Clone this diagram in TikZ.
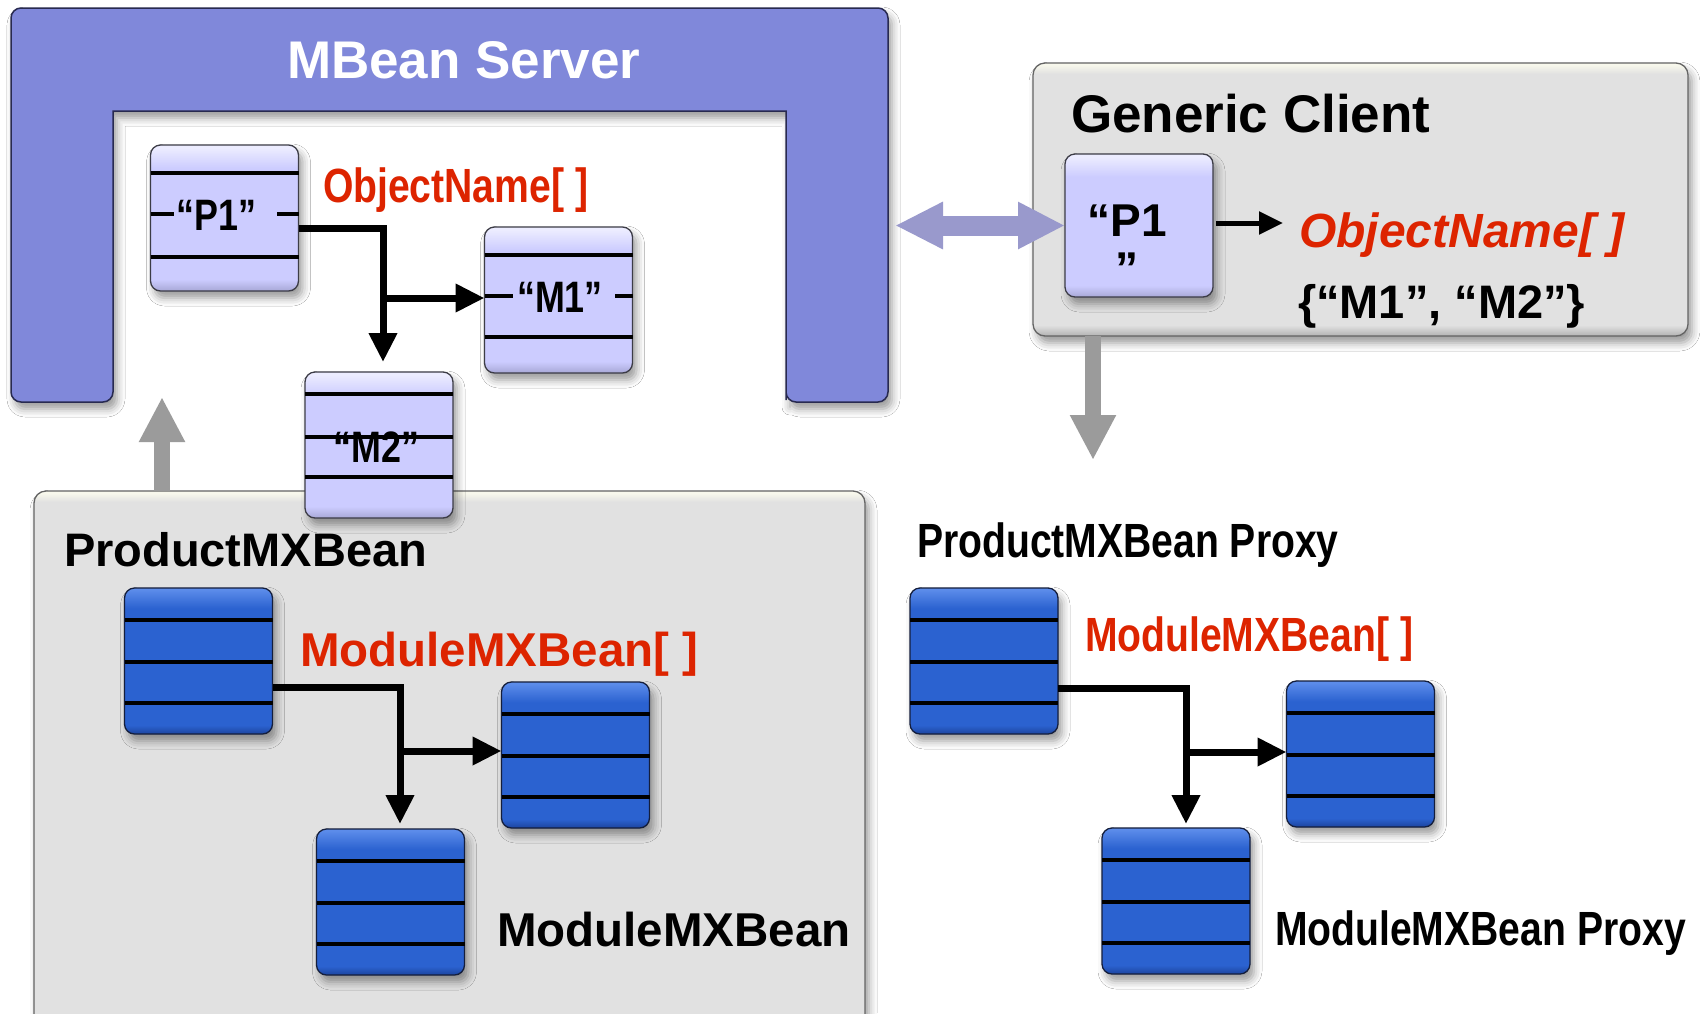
\documentclass[tikz,border=0pt]{standalone}
\usepackage{fontspec}
\setmainfont{Liberation Sans}
\newfontfamily\narrowsans[FakeStretch=0.815]{Liberation Sans}
\usetikzlibrary{arrows.meta,shadows.blur,calc}

% palette
\definecolor{srvfill}{RGB}{128,136,218}
\definecolor{srvline}{RGB}{40,42,80}
\definecolor{lavtop}{RGB}{236,236,255}
\definecolor{lavmid}{RGB}{204,204,255}
\definecolor{lavbot}{RGB}{168,168,214}
\definecolor{lavline}{RGB}{60,60,70}
\definecolor{bluetop}{RGB}{92,140,234}
\definecolor{bluemid}{RGB}{43,98,208}
\definecolor{bluebot}{RGB}{28,68,158}
\definecolor{blueline}{RGB}{20,30,60}
\definecolor{boxtop}{RGB}{248,248,236}
\definecolor{boxmid}{RGB}{225,225,225}
\definecolor{boxbot}{RGB}{178,178,178}
\definecolor{boxline}{RGB}{100,100,100}
\definecolor{namered}{RGB}{221,36,0}
\definecolor{linkgray}{RGB}{155,155,155}
\definecolor{linkviolet}{RGB}{153,153,204}

% bevelled fills: bottom edge at 25bp, top edge at 75bp
\pgfdeclareverticalshading{lavshade}{100bp}{color(0bp)=(lavbot); color(25bp)=(lavbot); color(29bp)=(lavmid); color(67bp)=(lavmid); color(74bp)=(lavtop); color(100bp)=(lavtop)}
\pgfdeclareverticalshading{blueshade}{100bp}{color(0bp)=(bluebot); color(25bp)=(bluebot); color(28bp)=(bluemid); color(68bp)=(bluemid); color(74.5bp)=(bluetop); color(100bp)=(bluetop)}
\pgfdeclareverticalshading{clientshade}{100bp}{color(0bp)=(boxbot); color(25bp)=(boxbot); color(27bp)=(boxmid); color(73bp)=(boxmid); color(74.7bp)=(boxtop); color(100bp)=(boxtop)}
\pgfdeclareverticalshading{beanshade}{100bp}{color(0bp)=(boxmid); color(74bp)=(boxmid); color(74.8bp)=(boxtop); color(100bp)=(boxtop)}

\newcommand\setfs[1]{\fontsize{#1pt}{#1pt}\selectfont}
% three horizontal rules across a bean box, offsets measured from its top
\newcommand\beanrules[4]{%
  \foreach \o in {#2,#3,#4}
    \draw[rule] ($(#1.north west)+(0,\o)$) -- ($(#1.north east)+(0,\o)$);}

\tikzset{
  softshadow/.style={blur shadow={shadow xshift=4pt, shadow yshift=-7pt,
      shadow blur radius=8pt, shadow opacity=40}},
  lavbox/.style={softshadow, draw=lavline, line width=1.3pt, rounded corners=10pt,
      shade, shading=lavshade, minimum width=148pt, minimum height=146pt,
      inner sep=0pt, outer sep=0pt},
  bluebox/.style={softshadow, draw=blueline, line width=1.3pt, rounded corners=10pt,
      shade, shading=blueshade, minimum width=148pt, minimum height=146pt,
      inner sep=0pt, outer sep=0pt},
  graybox/.style={softshadow, draw=boxline, line width=1.3pt, rounded corners=12pt,
      shade, inner sep=0pt, outer sep=0pt},
  rule/.style={line width=3.5pt, black},
  conn/.style={line width=7pt, black, -{Triangle[length=29pt,width=27pt]}},
  smallarrow/.style={line width=5pt, black, -{Triangle[length=24pt,width=22pt]}},
  grayarrow/.style={line width=16pt, linkgray, -{Triangle[length=45pt,width=43pt]}},
  dblarrow/.style={line width=20pt, linkviolet,
      {Triangle[length=48pt,width=44pt]}-{Triangle[length=47pt,width=44pt]}},
  txt/.style={inner sep=0pt, outer sep=0pt, anchor=base west},
  boxlabel/.style={inner sep=0pt, outer sep=0pt, anchor=base,
      font=\narrowsans\bfseries\setfs{44}},
}

\begin{document}
\begin{tikzpicture}[x=1pt,y=-1pt]
\useasboundingbox (0,0) rectangle (1700,1013);
\fill[white] (0,0) rectangle (1700,1013);

% MBean Server frame (an upside-down U)
\path[softshadow, fill=srvfill, draw=srvline, line width=1.5pt]
  (113,111) -- (113,390) [rounded corners=10pt] -- (113,402) -- (11,402)
  -- (11,8) -- (888,8) -- (888,402) -- (786,402) -- (786,390)
  [sharp corners] -- (786,111) -- cycle;
\coordinate (srvRight) at (888,225.5);
\node[txt, white, font=\bfseries\setfs{53}] (srvTitle) at (287,78) {MBean Server};

% ProductMXBean and Generic Client panels
\node[graybox, shading=beanshade, minimum width=831pt, minimum height=549pt] (PB) at (449.5,765.5) {};
\node[graybox, shading=clientshade, minimum width=655pt, minimum height=273pt] (GC) at (1360.5,199.5) {};

% registered names inside the server
\node[lavbox] (P1) at (224.5,218) {};
\node[lavbox] (M1) at (558.5,300) {};
\node[lavbox] (M2) at (379,445) {};
\beanrules{P1}{28}{112}{112}
\draw[rule] ($(P1.north west)+(0,69)$) -- ++(23,0);
\draw[rule] ($(P1.north east)+(0,69)$) -- ++(-22,0);
\beanrules{M1}{28}{110}{110}
\draw[rule] ($(M1.north west)+(0,69)$) -- ++(28,0);
\draw[rule] ($(M1.north east)+(0,69)$) -- ++(-18,0);
\beanrules{M2}{22}{65}{105}
\node[boxlabel] (P1lbl) at (216.5,230) {“P1”};
\node[boxlabel] (M1lbl) at (560,312) {“M1”};
\node[boxlabel] (M2lbl) at (376.5,462) {“M2”};

% client-side name box
\node[lavbox, minimum height=143pt] (GP1) at (1139,225.5) {};
\node[inner sep=0pt, outer sep=0pt, anchor=north, align=center,
      font=\bfseries\fontsize{46pt}{48.5pt}\selectfont] (GP1lbl) at (1127,204.5) {“P1\\”};

% MXBeans and their proxies
\node[bluebox] (LP) at (198.5,661) {};
\node[bluebox] (LM1) at (575.5,755) {};
\node[bluebox] (LM2) at (390.5,902) {};
\node[bluebox] (RP) at (984,661) {};
\node[bluebox] (RM1) at (1360.5,754) {};
\node[bluebox] (RM2) at (1176,901) {};
\foreach \b in {LP,LM1,LM2,RP,RM1,RM2} { \beanrules{\b}{32}{74}{115} }

% references between beans
\draw[conn] ($(P1.east)+(0,10)$) -| coordinate[pos=0.5] (bendA) ($(M2.north)+(4,-10)$);
\draw[conn] ($(bendA |- M1.west)+(0,-2)$) -- ($(M1.west)+(0,-2)$);
\draw[conn] ($(LP.east)+(0,26)$) -| coordinate[pos=0.5] (bendB) ($(LM2.north)+(9.5,-5)$);
\draw[conn] ($(bendB |- LM1.west)+(0,-4)$) -- ($(LM1.west)+(0,-4)$);
\draw[conn] ($(RP.east)+(0,27)$) -| coordinate[pos=0.5] (bendC) ($(RM2.north)+(10,-4)$);
\draw[conn] ($(bendC |- RM1.west)+(0,-2)$) -- ($(RM1.west)+(0,-2)$);

% registration, generic access and proxy creation
\coordinate (upTip) at (162,397);
\draw[grayarrow] ($(PB.north west)+(128,0)$) -- (upTip);
\coordinate (downTip) at (1093,460);
\draw[grayarrow] ($(GC.south west)+(60,0)$) -- (downTip);
\draw[dblarrow] ($(srvRight)+(7,0)$) -- (GP1.west);
\coordinate (nameTip) at (1283,223);
\draw[smallarrow] ($(GP1.east)+(3,-2.5)$) -- (nameTip);

% labels
\node[txt, namered, font=\narrowsans\bfseries\setfs{48}] (objNames) at (323,202) {ObjectName[ ]};
\node[txt, font=\bfseries\setfs{53}] (gcTitle) at (1071,132) {Generic Client};
\node[txt, namered, font=\bfseries\itshape\setfs{48}] (gcNames) at (1299,247) {ObjectName[ ]};
\node[txt, font=\bfseries\setfs{47}] (gcList) at (1298,318) {\{“M1”, “M2”\}};
\node[txt, font=\bfseries\setfs{47}] (pbTitle) at (64,566) {ProductMXBean};
\node[txt, namered, font=\bfseries\setfs{47.5}] (pbArray) at (300,666) {ModuleMXBean[ ]};
\node[txt, font=\bfseries\setfs{47.5}] (mbTitle) at (497,946) {ModuleMXBean};
\node[txt, font=\narrowsans\bfseries\setfs{48}] (ppTitle) at (917,557) {ProductMXBean Proxy};
\node[txt, namered, font=\narrowsans\bfseries\setfs{48}] (ppArray) at (1085,651) {ModuleMXBean[ ]};
\node[txt, font=\narrowsans\bfseries\setfs{48}] (mpTitle) at (1275,945) {ModuleMXBean Proxy};
\end{tikzpicture}
\end{document}
